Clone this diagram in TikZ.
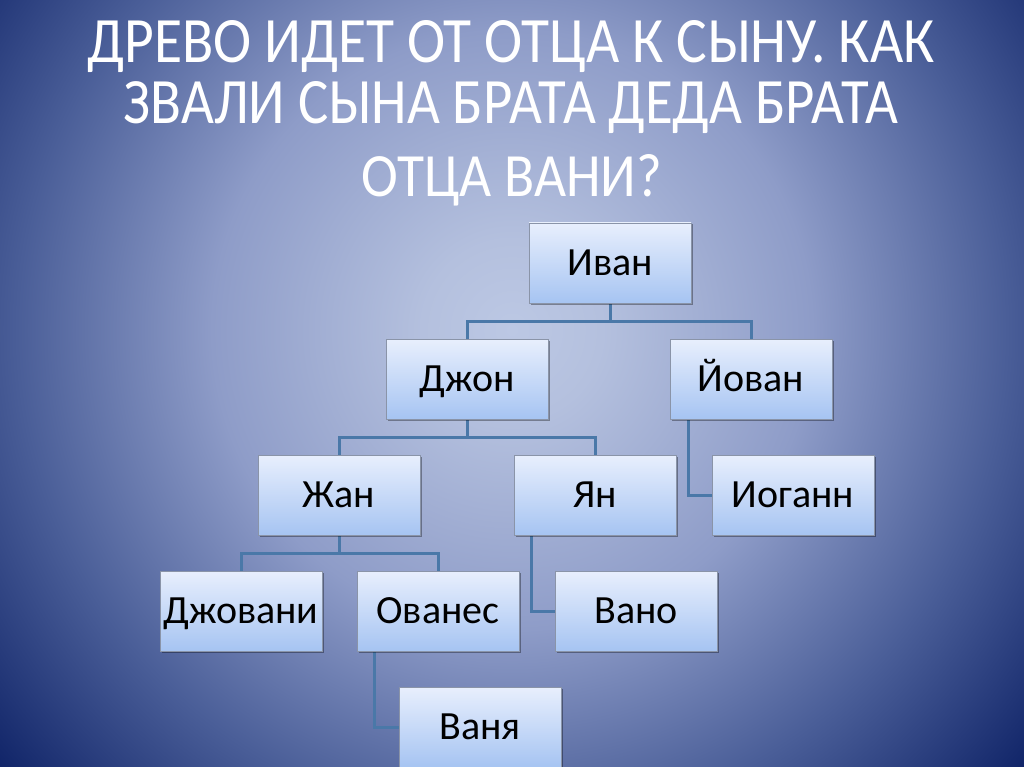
\documentclass[tikz,border=0pt]{standalone}
\usepackage{fontspec}
\usepackage{graphicx}
\setmainfont{Carlito}
\newfontfamily\titlefont{Carlito}
\usetikzlibrary{shadows}
\definecolor{bgA}{HTML}{BCC8E4}
\definecolor{bgB}{HTML}{B4C0DE}
\definecolor{bgC}{HTML}{8E9CC8}
\definecolor{bgD}{HTML}{4A5E98}
\definecolor{bgE}{HTML}{102468}
\definecolor{bgF}{HTML}{0A1A5E}
\definecolor{boxtop}{HTML}{E8EFFD}
\definecolor{boxbot}{HTML}{A6C4F2}
\definecolor{boxline}{HTML}{8A94A8}
\definecolor{conn}{HTML}{4A78A8}
% TikZ maps the 25bp radius to the path's bounding box
\pgfdeclareradialshading{bgshade}{\pgfpoint{0bp}{0bp}}{color(0bp)=(bgA); color(3bp)=(bgB); color(10bp)=(bgC); color(16.5bp)=(bgD); color(22.5bp)=(bgE); color(25bp)=(bgF); color(50bp)=(bgF)}
\tikzset{
  person/.style={draw=boxline, line width=0.8pt, top color=boxtop, bottom color=boxbot,
    minimum width=162pt, minimum height=80pt, inner sep=0pt,
    text height=25pt, text depth=0pt, font=\fontsize{40}{44}\selectfont, text=black,
    drop shadow={shadow xshift=1.5pt, shadow yshift=-1.5pt, opacity=0.35, fill=black}},
  link/.style={draw=conn, line width=3pt},
  ttl/.style={text=white, inner sep=0pt, anchor=base}
}
\begin{document}
\begin{tikzpicture}[x=1pt,y=-1pt]
\useasboundingbox (0,0) rectangle (1024,767);
\begin{scope}
\clip (0,0) rectangle (1024,767);
\shade[shading=bgshade] (512,330) circle (750);
\end{scope}
% title
\node[ttl] (t1) at (511,63) {\resizebox{847pt}{42pt}{\titlefont ДРЕВО ИДЕТ ОТ ОТЦА К СЫНУ. КАК}};
\node[ttl] (t2) at (511,124) {\resizebox{774pt}{42pt}{\titlefont ЗВАЛИ СЫНА БРАТА ДЕДА БРАТА}};
\node[ttl] (t3) at (512,197) {\resizebox{300pt}{42pt}{\titlefont ОТЦА ВАНИ?}};
% coordinates for connectors
\coordinate (j1) at (610,321);
\coordinate (j2) at (467,437);
\coordinate (j3) at (339,553);
% connectors
\draw[link] (610,303) -- (j1);
\draw[link] (467,339) |- (j1) -| (751,339);
\draw[link] (467,419) -- (j2);
\draw[link] (339,455) |- (j2) -| (595,455);
\draw[link] (339,535) -- (j3);
\draw[link] (241,571) |- (j3) -| (438,571);
\draw[link] (688,419) |- (712,495);
\draw[link] (531,535) |- (555,611);
\draw[link] (374,651) |- (399,727);
% nodes
\node[person] (ivan) at (610,263) {Иван};
\node[person] (john) at (467,379) {Джон};
\node[person] (yovan) at (751,379) {Йован};
\node[person] (zhan) at (339,495) {Жан};
\node[person] (yan) at (595,495) {Ян};
\node[person] (iogann) at (793,495) {Иоганн};
\node[person] (dzhovani) at (241,611) {Джовани};
\node[person] (ovanes) at (438,611) {Ованес};
\node[person] (vano) at (636,611) {Вано};
\node[person] (vanya) at (480,727) {Ваня};
\end{tikzpicture}
\end{document}
